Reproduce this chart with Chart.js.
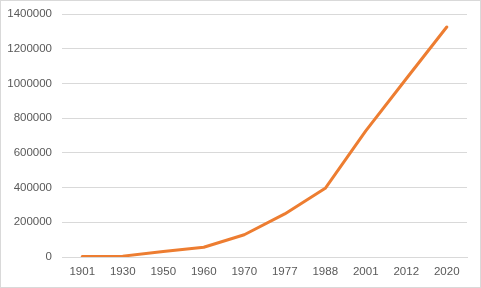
<!DOCTYPE html>
<html><head><meta charset="utf-8">
<script src="https://cdn.jsdelivr.net/npm/chart.js@4/dist/chart.umd.min.js"></script>
<style>
html,body{margin:0;padding:0;background:#fff;}
#wrap{box-sizing:border-box;width:481px;height:288px;border:1px solid #d9d9d9;}
canvas{display:block;}
</style></head><body>
<div id="wrap"><canvas id="c" width="479" height="286"></canvas></div>
<script>
const categories = ["1901","1930","1950","1960","1970","1977","1988","2001","2012","2020"];
const population = [3000, 5000, 32000, 56000, 128000, 248000, 396000, 727000, 1027000, 1325000];
const yTicks = [0,200000,400000,600000,800000,1000000,1200000,1400000];

new Chart(document.getElementById('c'), {
  type: 'line',
  data: { labels: categories, datasets: [{ data: population, borderColor: '#ED7D31', borderWidth: 3, pointRadius: 0, tension: 0, fill: false, borderCapStyle: 'round', borderJoinStyle: 'round' }] },
  options: {
    responsive: false, animation: false,
    layout: { padding: { left: 0, right: 13, top: 13, bottom: 0 } },
    plugins: { legend: { display: false }, tooltip: { enabled: false } },
    scales: {
      x: {
        offset: true,
        grid: { display: false, drawTicks: false },
        border: { color: '#d9d9d9', width: 1 },
        afterFit: s => { s.height = 30; s.paddingLeft = 0; s.paddingRight = 0; },
        ticks: { color: '#595959', font: { family: 'Liberation Sans', size: 11.5 }, padding: 8, maxRotation: 0, autoSkip: false }
      },
      y: {
        min: 0, max: 1400000,
        afterBuildTicks: s => { s.ticks = yTicks.map(v => ({ value: v })); },
        afterFit: s => { s.width = 61; s.paddingTop = 0; s.paddingBottom = 0; },
        grid: { color: '#d9d9d9', drawTicks: false },
        border: { display: false },
        ticks: { color: '#595959', font: { family: 'Liberation Sans', size: 11.5 }, padding: 10, callback: v => String(v) }
      }
    }
  }
});
</script></body></html>
